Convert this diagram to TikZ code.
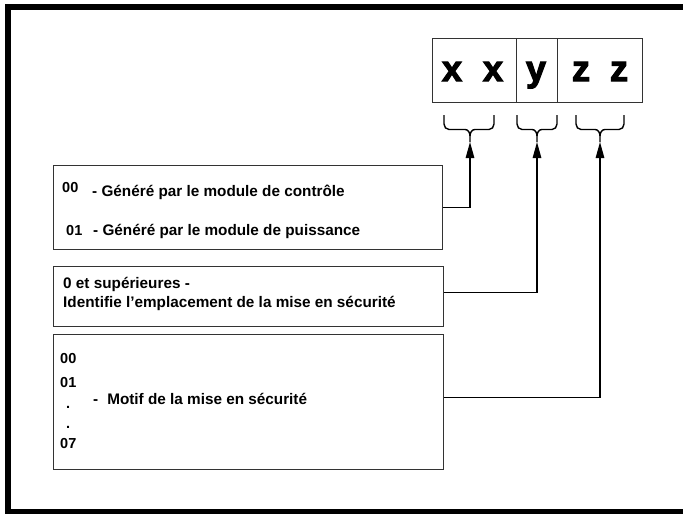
\documentclass[tikz,border=0pt]{standalone}
\usepackage{fontspec}
\setmainfont{Liberation Sans}
\usetikzlibrary{arrows.meta,calc}
\newcommand\codebrace[4]{% left x, centre x, right x, name of tip
  \draw[brace] (#1,115) -- (#1,124) to[out=-90,in=180] (#1+5,129.5) -- (#2-5,129.5) to[out=0,in=90] (#2,136) -- (#2,142);
  \draw[brace] (#3,115) -- (#3,124) to[out=-90,in=0] (#3-5,129.5) -- (#2+5,129.5) to[out=180,in=90] (#2,136);
  \coordinate (#4) at (#2,142);
}
\newcommand\heavy[1]{\special{pdf:literal direct 2 Tr 1.1 w}#1\special{pdf:literal direct 0 Tr}}
\begin{document}
\begin{tikzpicture}[x=1pt,y=-1pt,
  frame/.style={line width=6pt,black},
  cell/.style={draw=black!80,line width=1.1pt,anchor=north west,inner sep=0pt},
  big/.style={anchor=base,inner sep=0pt,font=\fontsize{36}{40}\selectfont\bfseries},
  box/.style={draw=black!80,line width=1.1pt,anchor=north west,inner sep=0pt},
  txt/.style={anchor=base west,inner sep=0pt,font=\fontsize{15.3}{17}\selectfont\bfseries},
  num/.style={anchor=base west,inner sep=0pt,font=\fontsize{14.5}{17}\selectfont\bfseries},
  brace/.style={line width=1.4pt,black},
  link/.style={line width=1.3pt,black,-{Triangle[length=16pt,width=8.5pt]}}]
\useasboundingbox (0,0) rectangle (683,514);
\clip (0,0) rectangle (683,514);
\draw[frame] (8,7) rectangle (692,512);
% code cells
\node[cell,minimum width=84pt,minimum height=64pt] (c1) at (432,38) {};
\node[cell,minimum width=41pt,minimum height=64pt] (c2) at (516,38) {};
\node[cell,minimum width=85pt,minimum height=64pt] (c3) at (557,38) {};
\node[big] (lx1) at (452,81) {\heavy{x}};
\node[big] (lx2) at (493,81) {\heavy{x}};
\node[big] (ly) at (536,81) {\heavy{y}};
\node[big] (lz1) at (581,81) {\heavy{z}};
\node[big] (lz2) at (619,81) {\heavy{z}};
% braces
\codebrace{444}{470}{494}{t1}
\codebrace{517}{537}{557}{t2}
\codebrace{576}{600}{624}{t3}
% boxes
\node[box,minimum width=389pt,minimum height=84pt] (b1) at (53,165) {};
\node[box,minimum width=390pt,minimum height=60pt] (b2) at (53,266) {};
\node[box,minimum width=390pt,minimum height=135pt] (b3) at (53,334) {};
% box 1 text
\node[num] (n00) at (62,192) {00};
\node[txt] (t00) at (92,196) {- Généré par le module de contrôle};
\node[num] (n01) at (66,235) {01};
\node[txt] (t01) at (93,235) {- Généré par le module de puissance};
% box 2 text
\node[txt] (s1) at (63,288) {0 et supérieures -};
\node[txt] (s2) at (63,307) {Identifie l’emplacement de la mise en sécurité};
% box 3 text
\node[num] (m00) at (60,363) {00};
\node[num] (m01) at (60,387) {01};
\node[num] (md1) at (66,408) {.};
\node[num] (md2) at (66,428) {.};
\node[num] (m07) at (60,448) {07};
\node[txt] (mt) at (93,404) {-\hspace{9pt}Motif de la mise en sécurité};
% connectors
\draw[link] (b1.east) -| (t1);
\draw[link] ($(b2.east)+(0,-4)$) -| (t2);
\draw[link] ($(b3.east)+(0,-4.5)$) -| (t3);
\end{tikzpicture}
\end{document}
